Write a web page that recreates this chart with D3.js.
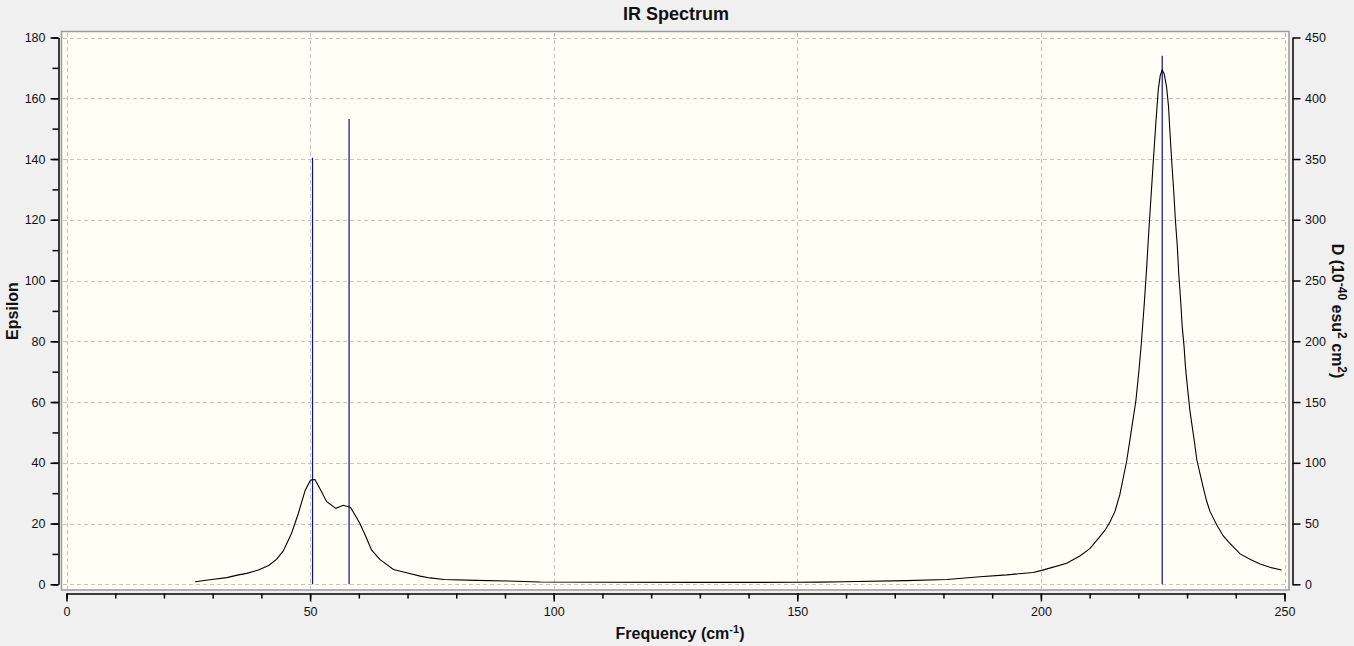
<!DOCTYPE html>
<html>
<head>
<meta charset="utf-8">
<script src="https://cdn.jsdelivr.net/npm/d3@7/dist/d3.min.js"></script>
<style>
  html, body { margin: 0; padding: 0; background: #f0f0f0; }
  svg { display: block; font-family: "Liberation Sans", Arial, sans-serif; }
</style>
</head>
<body>
<svg id="chart" width="1354" height="646"></svg>
<script>
// ---- data ----
const freq = [26.4, 29.8, 32.9, 35.3, 37.0, 39.4, 41.5, 43.1, 44.5, 46.2, 47.6, 49.0, 50.1, 51.0, 52.0, 53.4, 55.3, 56.8, 58.3, 60.2, 61.5, 62.6, 64.3, 67.1, 69.8, 72.6, 74.6, 77.5, 84.1, 90.6, 97.2, 110, 130, 150, 154.7, 159.4, 172.4, 180.7, 187.5, 193.0, 198.4, 200.0, 202.0, 205.3, 208.0, 210.1, 212.1, 213.2, 214.2, 215.2, 216.2, 217.6, 218.6, 219.5, 220.1, 220.6, 221.2, 221.7, 222.1, 222.6, 223.1, 223.6, 224.1, 224.5, 224.9, 225.3, 225.8, 226.2, 226.5, 226.9, 227.3, 227.6, 228.0, 228.3, 228.7, 229.0, 229.4, 229.7, 230.2, 230.6, 231.5, 232.0, 233.3, 234.0, 234.7, 236.1, 237.4, 238.5, 240.9, 243.0, 245.0, 247.0, 249.4];
const epsilon = [0.86, 1.6, 2.2, 3.1, 3.6, 4.7, 6.2, 8.2, 11.0, 16.8, 23.4, 31.0, 34.3, 34.5, 31.5, 27.2, 25.0, 26.0, 25.3, 20.1, 15.5, 11.3, 8.2, 4.9, 3.8, 2.7, 2.1, 1.6, 1.3, 1.1, 0.76, 0.66, 0.62, 0.66, 0.7, 0.86, 1.2, 1.6, 2.5, 3.1, 3.9, 4.5, 5.4, 6.9, 9.3, 11.8, 15.7, 17.9, 20.6, 24.0, 29.5, 40.5, 51.0, 60.5, 70.0, 79.0, 92.0, 104.0, 115.0, 127.5, 140.0, 152.0, 163.0, 167.5, 169.3, 168.0, 163.7, 157.2, 148.5, 138.0, 128.5, 120.0, 111.3, 102.0, 93.0, 85.0, 78.0, 71.0, 63.0, 57.0, 47.0, 41.0, 32.0, 27.5, 24.0, 19.5, 16.0, 14.0, 10.0, 8.2, 6.7, 5.6, 4.7];

const stickFreq = [50.5, 58.0, 224.9];
const stickD = [351, 383, 435];

const xMajorTicks = [0, 50, 100, 150, 200, 250];
const xMinorTicks = d3.range(0, 251, 10);
const yLeftMajorTicks = [0, 20, 40, 60, 80, 100, 120, 140, 160, 180];
const yLeftMinorTicks = d3.range(0, 181, 10);
const yRightTicks = [0, 50, 100, 150, 200, 250, 300, 350, 400, 450];

// ---- layout ----
const svg = d3.select("#chart");
const x = d3.scaleLinear().domain([0, 250]).range([66.5, 1284.5]);
const yL = d3.scaleLinear().domain([0, 180]).range([584.3, 37.5]);
const yR = d3.scaleLinear().domain([0, 450]).range([584.3, 37.5]);

// plot background & border
svg.append("rect")
  .attr("x", 61.5).attr("y", 31.5)
  .attr("width", 1289 - 61.5).attr("height", 590 - 31.5)
  .attr("fill", "#fffff5").attr("stroke", "#9a9aa0").attr("stroke-width", 1.5);

// grid
const grid = svg.append("g").attr("stroke", "#c4c4c4").attr("stroke-dasharray", "4,3").attr("stroke-width", 1);
grid.selectAll("line.v").data(xMajorTicks).join("line")
  .attr("x1", d => Math.round(x(d)) + 0.5).attr("x2", d => Math.round(x(d)) + 0.5)
  .attr("y1", 33).attr("y2", 589);
grid.selectAll("line.h").data(yLeftMajorTicks).join("line")
  .attr("class", "h")
  .attr("x1", 63).attr("x2", 1288)
  .attr("y1", d => Math.round(yL(d)) + 0.5).attr("y2", d => Math.round(yL(d)) + 0.5);

// sticks (right axis units)
svg.append("g").selectAll("line").data(stickFreq).join("line")
  .attr("x1", d => x(d)).attr("x2", d => x(d))
  .attr("y1", yR(0)).attr("y2", (d, i) => yR(stickD[i]))
  .attr("stroke", "#10108f").attr("stroke-width", 1.2);

// spectrum curve
const pts = freq.map((f, i) => [f, epsilon[i]]);
svg.append("path")
  .attr("d", d3.line().x(d => x(d[0])).y(d => yL(d[1]))(pts))
  .attr("fill", "none").attr("stroke", "#000").attr("stroke-width", 1.1);

// axes
function styleAxis(g) {
  g.selectAll("path").attr("stroke", "#000").attr("stroke-width", 1.5);
  g.selectAll("line").attr("stroke", "#000").attr("stroke-width", 1.5);
  g.selectAll("text").attr("fill", "#111").style("font-size", "12.5px")
    .style("font-family", "'Liberation Sans', Arial, sans-serif");
}

// left
svg.append("g").attr("transform", "translate(58.5,0)")
  .call(d3.axisLeft(yL).tickValues(yLeftMinorTicks).tickSize(6).tickSizeOuter(0).tickFormat(""))
  .call(styleAxis);
svg.append("g").attr("transform", "translate(58.5,0)")
  .call(d3.axisLeft(yL).tickValues(yLeftMajorTicks).tickSize(8).tickSizeOuter(0).tickPadding(5))
  .call(g => g.select(".domain").remove())
  .call(styleAxis);

// right
svg.append("g").attr("transform", "translate(1292.5,0)")
  .call(d3.axisRight(yR).tickValues(yRightTicks).tickSize(8).tickSizeOuter(0).tickPadding(4.5))
  .call(styleAxis);

// bottom
svg.append("g").attr("transform", "translate(0,593.5)")
  .call(d3.axisBottom(x).tickValues(xMinorTicks).tickSize(5).tickSizeOuter(0).tickFormat(""))
  .call(styleAxis);
svg.append("g").attr("transform", "translate(0,593.5)")
  .call(d3.axisBottom(x).tickValues(xMajorTicks).tickSize(8).tickSizeOuter(0).tickPadding(6))
  .call(g => g.select(".domain").remove())
  .call(styleAxis);

// title
svg.append("text").attr("x", 676).attr("y", 20).attr("text-anchor", "middle")
  .style("font-size", "18px").style("font-weight", "bold").attr("fill", "#111")
  .text("IR Spectrum");

// left label
svg.append("text").attr("transform", "translate(18,311) rotate(-90)").attr("text-anchor", "middle")
  .style("font-size", "16px").style("font-weight", "bold").attr("fill", "#111")
  .text("Epsilon");

// bottom label
const xl = svg.append("text").attr("x", 680).attr("y", 639).attr("text-anchor", "middle")
  .style("font-size", "16px").style("font-weight", "bold").attr("fill", "#111");
xl.append("tspan").text("Frequency (cm");
xl.append("tspan").attr("dy", -6).style("font-size", "11px").text("-1");
xl.append("tspan").attr("dy", 6).text(")");

// right label
const rl = svg.append("text").attr("transform", "translate(1332,311) rotate(90)").attr("text-anchor", "middle")
  .style("font-size", "16px").style("font-weight", "bold").attr("fill", "#111");
rl.append("tspan").text("D (10");
rl.append("tspan").attr("dy", -6).style("font-size", "12px").text("-40");
rl.append("tspan").attr("dy", 6).text(" esu");
rl.append("tspan").attr("dy", -6).style("font-size", "12px").text("2");
rl.append("tspan").attr("dy", 6).text(" cm");
rl.append("tspan").attr("dy", -6).style("font-size", "12px").text("2");
rl.append("tspan").attr("dy", 6).text(")");
</script>
</body>
</html>
